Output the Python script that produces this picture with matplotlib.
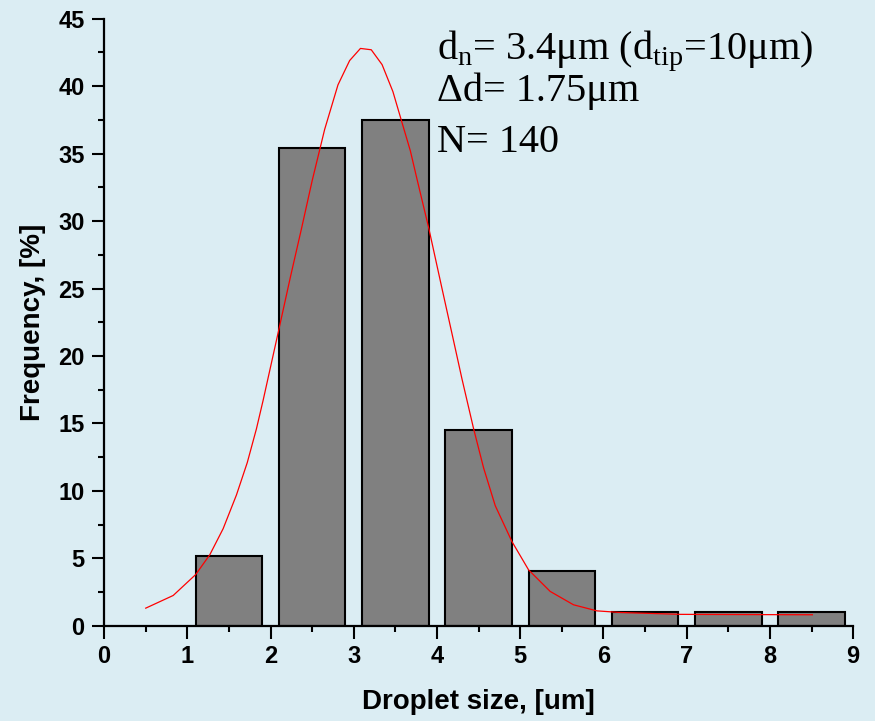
import matplotlib.pyplot as plt
from matplotlib.ticker import MultipleLocator

bg = '#dbedf3'

# histogram bins (centres) and frequencies in %
size_centers = [1.5, 2.5, 3.5, 4.5, 5.5, 6.5, 7.5, 8.5]
freq = [5.2, 35.4, 37.5, 14.5, 4.1, 1.0, 1.0, 1.0]

# fitted curve, points
fit_x = [0.50, 0.83, 1.10, 1.27, 1.43, 1.59, 1.72, 1.83, 1.91, 2.09, 2.24, 2.37,
         2.50, 2.65, 2.81, 2.95, 3.08, 3.21, 3.34, 3.47, 3.57, 3.68, 3.76, 3.90,
         4.06, 4.20, 4.30, 4.44, 4.56, 4.70, 4.90, 5.10, 5.36, 5.64, 5.92, 6.20,
         6.92, 8.51]
fit_y = [1.31, 2.25, 3.80, 5.27, 7.2, 9.7, 12.1, 14.6, 16.7, 21.7, 25.9, 29.4,
         33.0, 36.8, 40.1, 41.9, 42.8, 42.7, 41.6, 39.6, 37.5, 35.2, 33.1, 29.5,
         25.0, 21.1, 18.3, 14.6, 11.7, 8.9, 6.25, 4.15, 2.55, 1.56, 1.11, 0.99,
         0.85, 0.82]

fig = plt.figure(figsize=(8.75, 7.21), dpi=100, facecolor=bg)
ax = fig.add_axes([0.119, 0.132, 0.856, 0.842], facecolor=bg)

ax.bar(size_centers, freq, width=0.8, color='#808080', edgecolor='black',
       linewidth=1.5, zorder=2)
ax.plot(fit_x, fit_y, color='red', linewidth=0.9, zorder=3)

ax.set_xlim(0, 9)
ax.set_ylim(0, 45)
ax.xaxis.set_major_locator(MultipleLocator(1))
ax.xaxis.set_minor_locator(MultipleLocator(0.5))
ax.yaxis.set_major_locator(MultipleLocator(5))
ax.yaxis.set_minor_locator(MultipleLocator(2.5))

for s in ['top', 'right']:
    ax.spines[s].set_visible(False)
for s in ['left', 'bottom']:
    ax.spines[s].set_linewidth(1.6)
    ax.spines[s].set_zorder(4)

ax.tick_params(which='major', direction='out', length=9, width=1.5, pad=5,
               labelsize=17)
ax.tick_params(which='minor', direction='out', length=4.5, width=1.5)
for lab in ax.get_xticklabels() + ax.get_yticklabels():
    lab.set_fontweight('bold')
    lab.set_family('Liberation Sans')

ax.set_xlabel('Droplet size, [um]', fontsize=20, fontweight='bold',
              family='Liberation Sans', labelpad=15)
ax.set_ylabel('Frequency, [%]', fontsize=20, fontweight='bold',
              family='Liberation Sans', labelpad=9)

txt = dict(fontsize=29, family='Liberation Serif', transform=ax.transData,
           va='baseline', ha='left')
ax.text(4.0, 42.0, r'd$_{\mathregular{n}}$= 3.4μm (d$_{\mathregular{tip}}$=10μm)', **txt)
ax.text(4.0, 38.9, 'Δd= 1.75μm', **txt)
ax.text(4.0, 35.1, 'N= 140', **txt)

fig.savefig('out.png', dpi=100, facecolor=bg)
